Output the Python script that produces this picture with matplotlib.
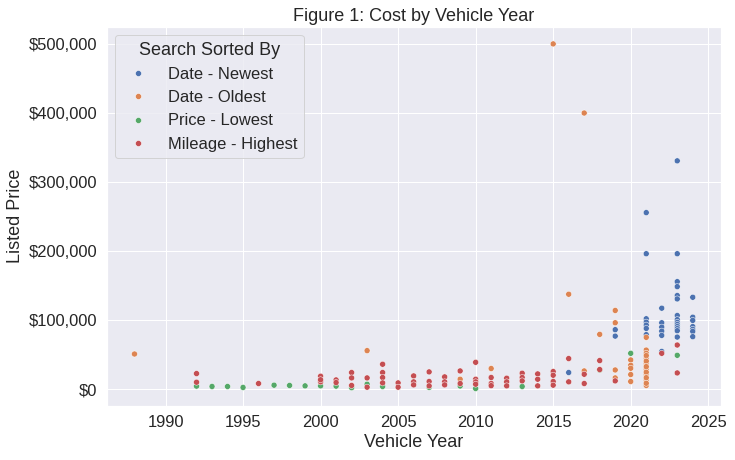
import numpy as np
import pandas as pd
import matplotlib
matplotlib.use("Agg")
import matplotlib.pyplot as plt
import matplotlib.ticker as mtick
import seaborn as sns

# years / prices (thousands of $), per search sort
newest_year = [2016, 2019, 2019,
               2021, 2021, 2021, 2021, 2021, 2021, 2021,
               2022, 2022, 2022, 2022, 2022, 2022,
               2023, 2023, 2023, 2023, 2023, 2023, 2023, 2023, 2023, 2023, 2023, 2023, 2023, 2023,
               2024, 2024, 2024, 2024, 2024, 2024, 2024]
newest_price = [24.5, 86.5, 77.2,
                255.9, 196.4, 102.3, 97.4, 93.1, 88.3, 79.3,
                117.6, 96.5, 90.2, 84.4, 78.2, 55.0,
                330.8, 196.4, 156.0, 148.8, 135.9, 131.0, 107.0, 101.0, 97.0, 94.0, 91.0, 88.0, 85.0, 75.8,
                133.4, 104.6, 99.9, 91.0, 87.0, 84.0, 76.4]

oldest_year = [1988, 2003, 2009, 2011, 2015, 2016, 2017, 2017, 2018,
               2019, 2019, 2019, 2019,
               2020, 2020, 2020, 2020, 2020,
               2021, 2021, 2021, 2021, 2021, 2021, 2021, 2021, 2021,
               2021, 2021, 2021, 2021, 2021, 2021]
oldest_price = [51.3, 56.2, 14.8, 30.3, 500.0, 137.8, 400.0, 26.8, 79.7,
                114.3, 96.5, 28.2, 16.7,
                42.7, 35.0, 30.7, 21.6, 11.5,
                75.4, 57.0, 52.3, 45.1, 37.5, 29.3, 21.6, 13.8, 5.8,
                49.0, 41.0, 33.0, 25.0, 17.0, 9.0]

lowest_year = [1992, 1993, 1994, 1995, 1997, 1998, 1999, 2000, 2001, 2002,
               2003, 2004, 2007, 2009, 2010, 2013, 2018, 2020, 2023]
lowest_price = [4.8, 4.3, 4.3, 2.9, 6.2, 5.8, 5.2, 5.2, 4.8, 2.5,
                7.6, 4.3, 3.0, 5.0, 1.4, 4.3, 28.0, 52.3, 49.4]

highest_year = [1992, 1992, 1996, 2000, 2000, 2000, 2001, 2001,
                2002, 2002, 2002, 2003, 2003, 2004, 2004, 2004, 2004,
                2005, 2005, 2006, 2006, 2006, 2007, 2007, 2007,
                2008, 2008, 2008, 2009, 2009, 2010, 2010, 2010, 2010,
                2011, 2011, 2011, 2012, 2012, 2012, 2013, 2013, 2013,
                2014, 2014, 2014, 2015, 2015, 2015, 2015,
                2016, 2016, 2017, 2017, 2018, 2018, 2019, 2022, 2023, 2023]
highest_price = [23.0, 10.5, 8.6, 19.2, 11.0, 14.0, 13.8, 10.0,
                 24.5, 16.7, 5.8, 16.7, 3.3, 36.5, 24.5, 17.3, 9.5,
                 9.5, 3.3, 19.6, 11.0, 6.6, 25.4, 11.5, 5.2,
                 18.2, 11.0, 6.6, 26.8, 8.6, 39.3, 14.8, 11.0, 7.6,
                 17.3, 8.6, 5.5, 16.3, 11.0, 5.2, 23.5, 17.3, 12.4,
                 22.5, 14.8, 5.2, 25.9, 20.6, 11.5, 6.2,
                 44.7, 11.0, 22.0, 8.6, 41.8, 28.8, 12.4, 52.3, 64.3, 23.9]

groups = ["Date - Newest", "Date - Oldest", "Price - Lowest", "Mileage - Highest"]
years = [newest_year, oldest_year, lowest_year, highest_year]
prices = [newest_price, oldest_price, lowest_price, highest_price]

df = pd.concat([
    pd.DataFrame({"Year": y, "Price": np.array(p) * 1000, "Search Sorted By": g})
    for g, y, p in zip(groups, years, prices)
], ignore_index=True)

sns.set_theme(font_scale=1.5)
plt.rcParams["font.family"] = ["Liberation Sans", "DejaVu Sans"]

fig = plt.figure(figsize=(735 / 72, 460 / 72), dpi=72)
ax = fig.add_axes([0.145, 0.118, 0.8355, 0.824])
sns.scatterplot(data=df, x="Year", y="Price", hue="Search Sorted By", ax=ax)

ax.yaxis.set_major_formatter(mtick.StrMethodFormatter("${x:,.0f}"))
ax.set_xlabel("Vehicle Year")
ax.set_ylabel("Listed Price")
ax.set_title("Figure 1: Cost by Vehicle Year")
ax.legend(title="Search Sorted By", loc="upper left")

fig.savefig("out.png", dpi=72)
